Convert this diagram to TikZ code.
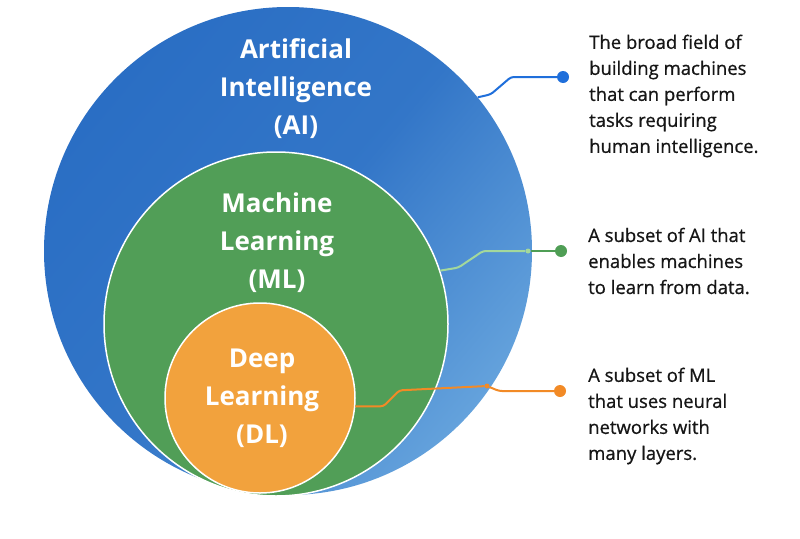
\documentclass[tikz,border=0pt]{standalone}
\usepackage{fontspec}
\setmainfont{Open Sans}
\newfontfamily\descfont{Open Sans}[FakeBold=0.7]
\usetikzlibrary{calc}
\definecolor{AIBlue}{HTML}{2A6EC4}
\definecolor{AIBlueLight}{HTML}{64A2DC}
\definecolor{MLGreen}{HTML}{519E57}
\definecolor{DLOrange}{HTML}{F2A23D}
\definecolor{AILine}{HTML}{1F6FDB}
\definecolor{MLLine}{HTML}{A3D89C}
\definecolor{MLDot}{HTML}{4F9E55}
\definecolor{DLLine}{HTML}{F28A26}
\definecolor{Ink}{HTML}{161616}

\begin{document}
\begin{tikzpicture}[x=1pt, y=-1pt,
    ring/.style={circle, inner sep=0pt},
    ringtext/.style={text=white, align=center, font=\fontsize{26}{38}\selectfont\bfseries},
    desc/.style={anchor=west, align=left, inner sep=0pt, text=Ink, font=\descfont\fontsize{18.5}{26}\selectfont},
    enddot/.style={circle, inner sep=0pt, minimum size=12pt},
    joindot/.style={circle, inner sep=0pt, minimum size=5pt},
    wire/.style={line width=2pt, rounded corners=3pt}]
  \useasboundingbox[fill=white] (0,0) rectangle (800,538);

  % nested circles
  \node[ring, minimum size=488pt, top color=AIBlue, bottom color=AIBlueLight, middle color=AIBlue!85!AIBlueLight, shading angle=50] (ai) at (288,251) {};
  \node[ring, minimum size=344pt, fill=MLGreen, draw=white, line width=1.5pt] (ml) at (276,324) {};
  \node[ring, minimum size=190pt, fill=DLOrange, draw=white, line width=1.5pt] (dl) at (260,398) {};

  \node[ringtext] (ailabel) at (296,89) {Artificial\\Intelligence\\(AI)};
  \node[ringtext] (mllabel) at (277,243) {Machine\\Learning\\(ML)};
  \node[ringtext] (dllabel) at (262,398) {Deep\\Learning\\(DL)};

  % descriptions
  \node[desc] (aitext) at (589,96) {The broad field of\\building machines\\that can perform\\tasks requiring\\human intelligence.};
  \node[desc] (mltext) at (588,261) {A subset of AI that\\enables machines\\to learn from data.};
  \node[desc] (dltext) at (588,416) {A subset of ML\\that uses neural\\networks with\\many layers.};

  \node[enddot, fill=AILine] (aidot) at (563,77) {};
  \node[enddot, fill=MLDot] (mldot) at (561,251) {};
  \node[enddot, fill=DLLine] (dldot) at (560,391) {};
  \node[joindot, fill=MLLine] (mljoin) at (528,251) {};
  \node[joindot, fill=DLLine] (dljoin) at (487,386) {};

  % leader lines
  \draw[wire, AILine] (ai.39) -- ++(13,-3) -- ([xshift=-52pt]aidot.center) -- (aidot);
  \draw[wire, MLLine] (ml.18) -- ++(18,-3) -- ([xshift=-78pt]mldot.center) -- (mljoin);
  \draw[wire, MLDot] (mljoin) -- (mldot);
  \draw[wire, DLLine] (dl.-5) -- ++(28,0) -- ++(16,-16) -- (dljoin) -- ++(12,5) -- (dldot);
\end{tikzpicture}
\end{document}
